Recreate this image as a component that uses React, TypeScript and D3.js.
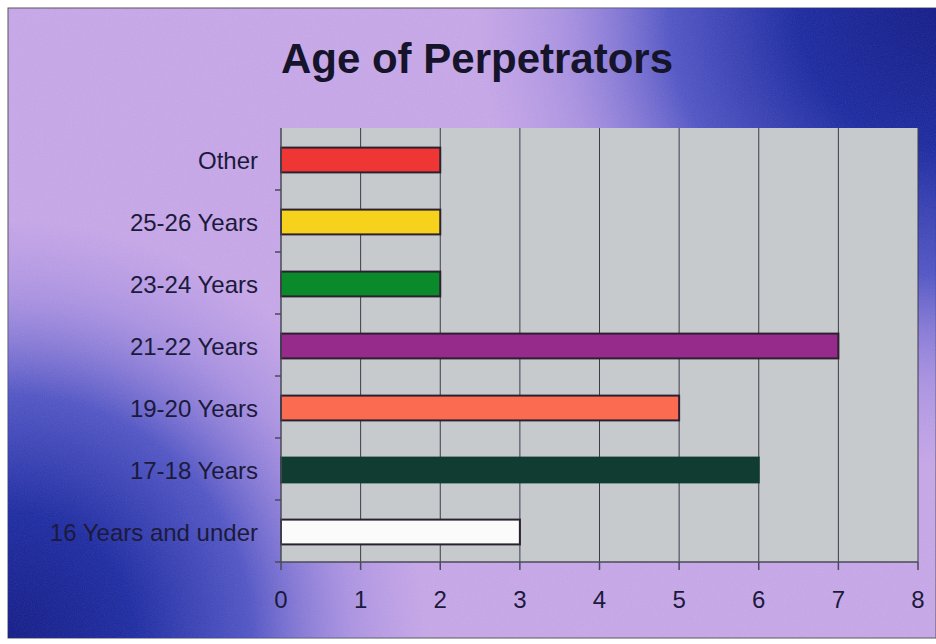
import React from 'react';
import * as d3 from 'd3';

// categories from top to bottom as they appear in the chart
const categories = [
  'Other',
  '25-26 Years',
  '23-24 Years',
  '21-22 Years',
  '19-20 Years',
  '17-18 Years',
  '16 Years and under',
];
const counts = [2, 2, 2, 7, 5, 6, 3];
const barColors = ['#f03535', '#f7d21c', '#0b8a2c', '#962b8c', '#fb6b52', '#103c31', '#fbfbfb'];
const xTicks = [0, 1, 2, 3, 4, 5, 6, 7, 8];

const W = 936;
const H = 644;
const plot = { left: 281, right: 918, top: 128, bottom: 562 };

const App = () => {
  const x = d3.scaleLinear().domain([0, 8]).range([plot.left, plot.right]);
  const y = d3
    .scaleBand()
    .domain(categories)
    .range([plot.top, plot.bottom])
    .paddingInner(0.6)
    .paddingOuter(0.3);
  const step = y.step();
  const font = '"Liberation Sans", Arial, Helvetica, sans-serif';

  return (
    <svg width={W} height={H} style={{ position: 'absolute', left: 0, top: 0, background: '#fff' }}>
      <defs>
        <radialGradient id="blueTR" gradientUnits="userSpaceOnUse" cx={936} cy={8} r={460}>
          <stop offset="0" stopColor="#121a88" />
          <stop offset="0.3" stopColor="#1a28a0" />
          <stop offset="0.58" stopColor="#3c46c0" stopOpacity={0.85} />
          <stop offset="0.82" stopColor="#7a70d8" stopOpacity={0.35} />
          <stop offset="1" stopColor="#8a7ede" stopOpacity={0} />
        </radialGradient>
        <radialGradient id="blueBL" gradientUnits="userSpaceOnUse" cx={8} cy={638} r={420}>
          <stop offset="0" stopColor="#121a88" />
          <stop offset="0.3" stopColor="#1c2aa2" />
          <stop offset="0.58" stopColor="#3c46c0" stopOpacity={0.85} />
          <stop offset="0.82" stopColor="#7a70d8" stopOpacity={0.35} />
          <stop offset="1" stopColor="#8a7ede" stopOpacity={0} />
        </radialGradient>
        <filter id="grain" x="0" y="0" width="100%" height="100%">
          <feTurbulence type="fractalNoise" baseFrequency="0.9" numOctaves="2" seed="3" />
          <feColorMatrix type="saturate" values="0" />
        </filter>
      </defs>

      {/* slide background */}
      <rect x={8} y={8} width={928} height={630} fill="#c8a7ea" stroke="#555" strokeWidth={1} />
      <rect x={8} y={8} width={928} height={630} fill="url(#blueTR)" />
      <rect x={8} y={8} width={928} height={630} fill="url(#blueBL)" />
      <rect x={8} y={8} width={928} height={630} filter="url(#grain)" opacity={0.12} />

      {/* title */}
      <text
        x={477}
        y={73}
        textAnchor="middle"
        fontFamily={font}
        fontWeight="bold"
        fontSize={42}
        fill="#16142a"
      >
        Age of Perpetrators
      </text>

      {/* plot area */}
      <rect
        x={plot.left}
        y={plot.top}
        width={plot.right - plot.left}
        height={plot.bottom - plot.top}
        fill="#c6cacd"
      />

      {/* vertical gridlines */}
      {xTicks.slice(1).map((t) => (
        <line key={'g' + t} x1={x(t)} x2={x(t)} y1={plot.top} y2={plot.bottom} stroke="#3c3c48" strokeWidth={1} />
      ))}

      {/* bars */}
      {categories.map((c, i) => (
        <rect
          key={c}
          x={x(0)}
          y={(y(c) as number) + 1}
          width={x(counts[i]) - x(0)}
          height={y.bandwidth()}
          fill={barColors[i]}
          stroke={i === 5 ? '#103c31' : '#2a2030'}
          strokeWidth={2}
        />
      ))}

      {/* axes */}
      <line x1={plot.left} x2={plot.left} y1={plot.top} y2={plot.bottom} stroke="#4a4a58" strokeWidth={1.5} />
      <line x1={plot.left} x2={plot.right} y1={plot.bottom} y2={plot.bottom} stroke="#4a4a58" strokeWidth={1.5} />

      {/* y ticks at category boundaries */}
      {categories.map((c, i) => (
        <line
          key={'yt' + c}
          x1={plot.left - 6}
          x2={plot.left}
          y1={plot.top + step * (i + 1)}
          y2={plot.top + step * (i + 1)}
          stroke="#4a4a58"
          strokeWidth={1.5}
        />
      ))}

      {/* x ticks */}
      {xTicks.map((t) => (
        <line key={'xt' + t} x1={x(t)} x2={x(t)} y1={plot.bottom} y2={plot.bottom + 8} stroke="#4a4a58" strokeWidth={1.5} />
      ))}

      {/* category labels */}
      {categories.map((c) => (
        <text
          key={'l' + c}
          x={258}
          y={(y(c) as number) + y.bandwidth() / 2 + 1}
          textAnchor="end"
          dominantBaseline="central"
          fontFamily={font}
          fontSize={24}
          fill="#1c1a3c"
        >
          {c}
        </text>
      ))}

      {/* x tick labels */}
      {xTicks.map((t) => (
        <text
          key={'xl' + t}
          x={x(t)}
          y={608}
          textAnchor="middle"
          fontFamily={font}
          fontSize={24}
          fill="#1c1a3c"
        >
          {t}
        </text>
      ))}
    </svg>
  );
};

export default App;
